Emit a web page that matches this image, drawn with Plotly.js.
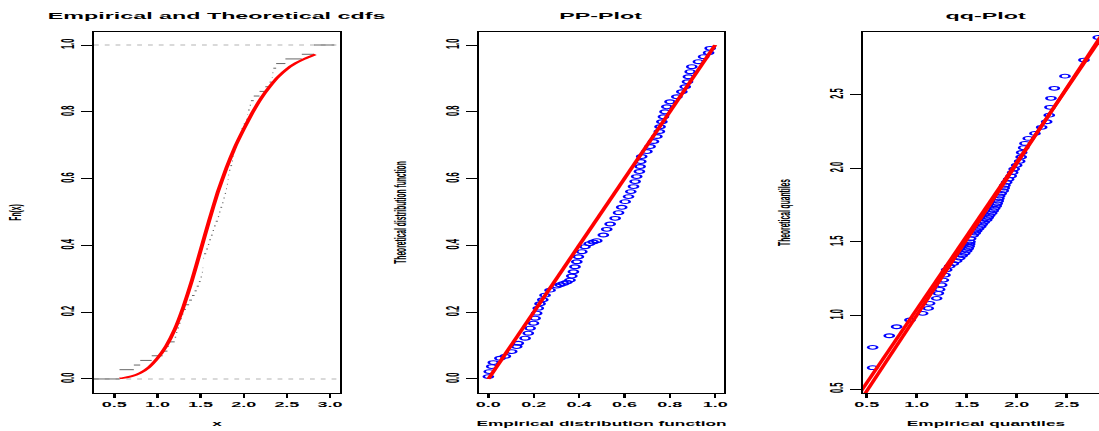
<!DOCTYPE html>
<html><head><meta charset="utf-8">
<script src="https://cdn.plot.ly/plotly-3.0.1.min.js"></script>
<style>
html,body{margin:0;padding:0;overflow:hidden;background:#fff;width:1099px;height:431px;}
#wrap{width:484px;height:431px;transform:scaleX(2.4);transform-origin:0 0;}
</style></head><body><div id="wrap"></div>
<script>
// ---- data ----
// sorted sample (empirical quantiles)
const sampleX = [0.56, 0.56, 0.726, 0.80, 0.933, 1.06, 1.116, 1.13, 1.20, 1.217, 1.23, 1.25, 1.267, 1.283, 1.30, 1.33,
  1.367, 1.40, 1.43, 1.455, 1.48, 1.50, 1.515, 1.525, 1.53, 1.533, 1.54, 1.565, 1.585, 1.60, 1.62, 1.64, 1.655, 1.675, 1.70, 1.715,
  1.73, 1.75, 1.765, 1.78, 1.795, 1.805, 1.815, 1.822, 1.83, 1.845, 1.865, 1.875, 1.883, 1.90, 1.92, 1.945, 1.96, 1.975, 2.0, 2.03,
  2.045, 2.05, 2.07, 2.083, 2.116, 2.183, 2.25, 2.30, 2.326, 2.333, 2.343, 2.376, 2.483, 2.673, 2.816, 2.816];
// theoretical quantiles matching each sample value
const theoQ = [0.645, 0.783, 0.862, 0.923, 0.969, 1.014, 1.048, 1.082, 1.116, 1.15, 1.177, 1.207, 1.24, 1.274, 1.31, 1.335,
  1.353, 1.372, 1.390, 1.407, 1.423, 1.439, 1.455, 1.470, 1.485, 1.500, 1.522, 1.545, 1.560, 1.575, 1.590, 1.605, 1.620, 1.635, 1.650, 1.665,
  1.680, 1.696, 1.712, 1.728, 1.744, 1.760, 1.777, 1.794, 1.811, 1.829, 1.847, 1.866, 1.885, 1.905, 1.926, 1.948, 1.971, 1.995, 2.020, 2.047,
  2.076, 2.107, 2.140, 2.169, 2.203, 2.237, 2.278, 2.316, 2.361, 2.414, 2.475, 2.543, 2.626, 2.735, 2.889, 3.15];
// fitted (theoretical) cdf curve
const cdfX = [0.56, 0.6, 0.7, 0.8, 0.9, 1.0, 1.1, 1.2, 1.3, 1.4, 1.5, 1.6, 1.7, 1.8, 1.9, 2.0, 2.1, 2.2, 2.3, 2.4, 2.5, 2.6, 2.7, 2.83];
const cdfY = [0.002, 0.003, 0.008, 0.018, 0.035, 0.062, 0.098, 0.148, 0.215, 0.295, 0.385, 0.475, 0.56, 0.632, 0.695, 0.748, 0.797, 0.84, 0.875, 0.905, 0.928, 0.945, 0.958, 0.972];
// PP plot points
const ppEmp = [0, 0.004, 0.015, 0.022, 0.051, 0.075, 0.103, 0.125, 0.132, 0.162, 0.176, 0.184, 0.199, 0.206, 0.213, 0.22, 0.228, 0.24, 0.25, 0.272,
  0.301, 0.316, 0.331, 0.346, 0.36, 0.368, 0.375, 0.382, 0.39, 0.397, 0.412, 0.426, 0.445, 0.462, 0.478, 0.507, 0.522, 0.537, 0.559, 0.574,
  0.588, 0.603, 0.618, 0.628, 0.64, 0.647, 0.654, 0.666, 0.669, 0.672, 0.676, 0.699, 0.713, 0.728, 0.743, 0.754, 0.757, 0.765, 0.772, 0.779,
  0.787, 0.801, 0.831, 0.853, 0.868, 0.878, 0.882, 0.89, 0.897, 0.926, 0.949, 0.971, 0.978];
const ppTheo = [0.007, 0.022, 0.037, 0.049, 0.062, 0.068, 0.082, 0.097, 0.107, 0.122, 0.137, 0.152, 0.167, 0.182, 0.197, 0.212, 0.225, 0.237, 0.251, 0.266,
  0.278, 0.282, 0.286, 0.29, 0.296, 0.308, 0.321, 0.336, 0.351, 0.366, 0.381, 0.396, 0.405, 0.41, 0.414, 0.431, 0.448, 0.464, 0.481, 0.498,
  0.514, 0.531, 0.546, 0.561, 0.576, 0.591, 0.606, 0.621, 0.636, 0.651, 0.666, 0.681, 0.696, 0.711, 0.726, 0.741, 0.755, 0.77, 0.785, 0.80,
  0.815, 0.83, 0.845, 0.86, 0.875, 0.89, 0.905, 0.92, 0.935, 0.95, 0.965, 0.977, 0.99];
// reference lines
const ppLineX = [0, 1], ppLineY = [0, 1];
const qqLineX = [0.40, 3.0], qqLineAY = [0.44, 3.04], qqLineBY = [0.382, 3.06];
// ecdf plotting extents
const ecdfLeft = 0.264, ecdfRight = 3.05;

// ---- build ecdf step segments from the sample ----
const n = sampleX.length;
const ex = [ecdfLeft, sampleX[0], null], ey = [0, 0, null];
for (let i = 0; i < n; i++) {
  const x1 = i < n - 1 ? sampleX[i + 1] : ecdfRight;
  ex.push(sampleX[i], x1, null);
  ey.push((i + 1) / n, (i + 1) / n, null);
}

const FAM = 'Liberation Sans, Arial, Helvetica, sans-serif';
const tickFont = {family: FAM, size: 7.5, color: '#000', weight: 'bold'};
const xTitleFont = {family: FAM, size: 7.2, color: '#000', weight: 'bold'};
const yTitleFont = {family: FAM, size: 6.7, color: '#000', weight: 'bold'};

function xax(dom, rng, t0, dt, title, anchor) {
  return {domain: dom, range: rng, anchor: anchor, tick0: t0, dtick: dt, tickformat: '.1f',
    showgrid: false, zeroline: false, showline: true, mirror: true, linecolor: '#000', linewidth: 1,
    ticks: 'outside', ticklen: 4.5, tickwidth: 1, tickcolor: '#000', tickfont: tickFont,
    title: {text: title, font: xTitleFont, standoff: 12}, automargin: false, fixedrange: true};
}
function yax(dom, rng, t0, dt, title, anchor) {
  return {domain: dom, range: rng, anchor: anchor, tick0: t0, dtick: dt, tickformat: '.1f', tickangle: -90,
    showgrid: false, zeroline: false, showline: true, mirror: true, linecolor: '#000', linewidth: 1,
    ticks: 'outside', ticklen: 4.5, tickwidth: 1, tickcolor: '#000', tickfont: tickFont,
    title: {text: title, font: yTitleFont, standoff: 13}, automargin: false, fixedrange: true};
}

const yDom = [0.0882, 0.9258];
const circ = {symbol: 'circle-open', size: 3.8, color: '#0000ff', line: {width: 1.1, color: '#0000ff'}};
const traces = [
  {x: ex, y: ey, xaxis: 'x', yaxis: 'y', mode: 'lines', line: {color: '#666', width: 1}, hoverinfo: 'skip'},
  {x: cdfX, y: cdfY, xaxis: 'x', yaxis: 'y', mode: 'lines', line: {color: '#ff0000', width: 1.7, shape: 'spline', smoothing: 0.6}},
  {x: ppEmp, y: ppTheo, xaxis: 'x2', yaxis: 'y2', mode: 'markers', marker: circ},
  {x: ppLineX, y: ppLineY, xaxis: 'x2', yaxis: 'y2', mode: 'lines', line: {color: '#ff0000', width: 1.8}},
  {x: sampleX, y: theoQ, xaxis: 'x3', yaxis: 'y3', mode: 'markers', marker: circ},
  {x: qqLineX, y: qqLineAY, xaxis: 'x3', yaxis: 'y3', mode: 'lines', line: {color: '#ff0000', width: 1.7}},
  {x: qqLineX, y: qqLineBY, xaxis: 'x3', yaxis: 'y3', mode: 'lines', line: {color: '#ff0000', width: 1.7}}
];

function ttl(text, xc) {
  return {text: text, xref: 'paper', yref: 'paper', x: xc, y: 1 - 15 / 431, xanchor: 'center', yanchor: 'middle', showarrow: false,
    font: {family: FAM, size: 9.7, color: '#000', weight: 'bold'}};
}

const d1 = [0.0809, 0.2927], d2 = [0.4124, 0.6233], d3 = [0.7429, 0.9547];
const layout = {
  width: 484, height: 431, margin: {l: 0, r: 0, t: 0, b: 0}, paper_bgcolor: '#fff', plot_bgcolor: '#fff', showlegend: false,
  font: {family: FAM, color: '#000'},
  xaxis: xax(d1, [0.264, 3.116], 0.5, 0.5, 'x', 'y'),
  yaxis: yax(yDom, [-0.042, 1.039], 0, 0.2, 'Fn(x)', 'x'),
  xaxis2: xax(d2, [-0.041, 1.039], 0, 0.2, 'Empirical distribution function', 'y2'),
  yaxis2: yax(yDom, [-0.042, 1.039], 0, 0.2, 'Theoretical distribution function', 'x2'),
  xaxis3: xax(d3, [0.463, 2.923], 0.5, 0.5, 'Empirical quantiles', 'y3'),
  yaxis3: yax(yDom, [0.473, 2.926], 0.5, 0.5, 'Theoretical quantiles', 'x3'),
  shapes: [0, 1].map(v => ({type: 'line', xref: 'x domain', yref: 'y', x0: 0, x1: 1, y0: v, y1: v,
    line: {color: '#b3b3b3', width: 1, dash: '2px,2.5px'}, layer: 'below'})),
  annotations: [ttl('Empirical and Theoretical cdfs', (d1[0] + d1[1]) / 2), ttl('PP-Plot', (d2[0] + d2[1]) / 2), ttl('qq-Plot', (d3[0] + d3[1]) / 2)]
};
Plotly.newPlot('wrap', traces, layout, {displayModeBar: false, staticPlot: true});
</script></body></html>
